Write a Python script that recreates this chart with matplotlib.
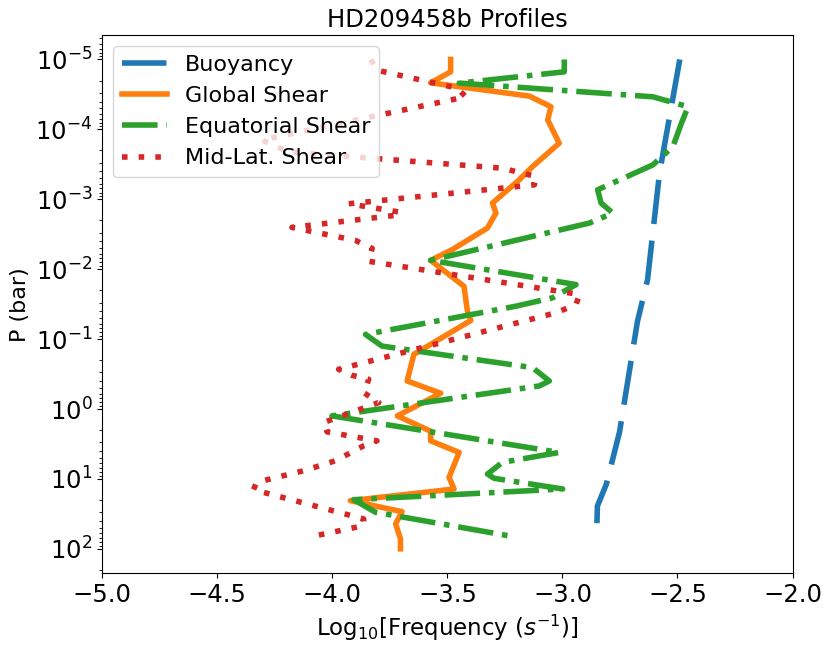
import numpy as np
import matplotlib
matplotlib.use("Agg")
import matplotlib.pyplot as plt

# ---- data (log10 frequency, log10 pressure in bar) ----
buoy_freq = [-2.490, -2.578, -2.630, -2.674, -2.752, -2.809, -2.848, -2.852]
buoy_logp = [-5.0, -3.378, -1.852, -1.253, 0.331, 1.073, 1.387, 1.857]

glob_freq = [-3.486, -3.486, -3.573, -3.144, -3.050, -3.064, -3.014, -3.130,
             -3.188, -3.304, -3.289, -3.326, -3.479, -3.573, -3.428, -3.413,
             -3.398, -3.646, -3.675, -3.529, -3.718, -3.573, -3.573, -3.449,
             -3.493, -3.471, -3.922, -3.697, -3.725, -3.704, -3.704]
glob_logp = [-5.0, -4.823, -4.666, -4.476, -4.324, -4.134, -3.802, -3.468,
             -3.278, -2.946, -2.803, -2.589, -2.280, -2.127, -1.756, -1.399,
             -1.267, -0.782, -0.401, -0.225, 0.098, 0.317, 0.455, 0.621,
             0.977, 1.144, 1.311, 1.468, 1.643, 1.857, 2.0]

eq_freq = [-2.992, -2.992, -3.449, -2.607, -2.454, -2.483, -2.520, -2.607,
           -2.847, -2.832, -2.781, -2.883, -3.573, -2.941, -3.043, -3.202,
           -3.856, -3.784, -3.130, -3.057, -3.101, -4.002, -3.014, -3.261,
           -3.326, -3.297, -2.999, -3.907, -3.813, -3.224]
eq_logp = [-5.0, -4.823, -4.662, -4.466, -4.324, -4.087, -3.753, -3.492,
           -3.136, -2.946, -2.803, -2.660, -2.127, -1.780, -1.591, -1.471,
           -1.067, -0.900, -0.592, -0.401, -0.330, 0.098, 0.621, 0.763,
           0.930, 0.991, 1.144, 1.297, 1.476, 1.819]

mid_freq = [-3.833, -3.807, -3.458, -3.420, -4.307, -4.190, -3.261, -3.115,
            -3.122, -3.929, -3.710, -3.704, -4.176, -3.900, -3.827, -3.842,
            -2.926, -2.941, -3.028, -3.973, -3.915, -3.842, -3.864, -3.798,
            -4.038, -4.023, -3.806, -3.864, -3.987, -4.125, -4.329, -4.343,
            -3.864, -3.864, -4.082]
mid_logp = [-5.0, -4.847, -4.591, -4.466, -3.849, -3.678, -3.445, -3.325,
            -3.207, -2.936, -2.818, -2.779, -2.598, -2.412, -2.298, -2.113,
            -1.638, -1.495, -1.377, -0.568, -0.482, -0.425, -0.235, -0.093,
            0.193, 0.327, 0.455, 0.526, 0.740, 0.883, 1.048, 1.154,
            1.572, 1.668, 1.819]

labels = ["Buoyancy", "Global Shear", "Equatorial Shear", "Mid-Lat. Shear"]
xticks = [-5.0, -4.5, -4.0, -3.5, -3.0, -2.5, -2.0]

fig = plt.figure(figsize=(8.31, 6.47), dpi=100)
ax = fig.add_axes([0.1231, 0.1139, 0.9537 - 0.1231, 0.9459 - 0.1139])

lw = 4
ax.plot(buoy_freq, 10 ** np.array(buoy_logp), color="#1f77b4", lw=lw,
        dashes=(8, 3), label=labels[0])
ax.plot(glob_freq, 10 ** np.array(glob_logp), color="#ff7f0e", lw=lw,
        ls="-", label=labels[1])
ax.plot(eq_freq, 10 ** np.array(eq_logp), color="#2ca02c", lw=lw,
        ls="-.", label=labels[2])
ax.plot(mid_freq, 10 ** np.array(mid_logp), color="#d62728", lw=lw,
        dashes=(1, 2), label=labels[3])

ax.set_yscale("log")
ax.invert_yaxis()
ax.set_xlim(-5.0, -2.0)
ax.set_xticks(xticks)
ax.tick_params(axis="both", which="major", labelsize=17.5)
ax.set_xlabel(r"Log$_{10}$[Frequency ($s^{-1}$)]", fontsize=16.5)
ax.set_ylabel("P (bar)", fontsize=16)
ax.set_title("HD209458b Profiles", fontsize=17.5)
ax.legend(loc="upper left", fontsize=16)

fig.savefig("out.png", dpi=100)
